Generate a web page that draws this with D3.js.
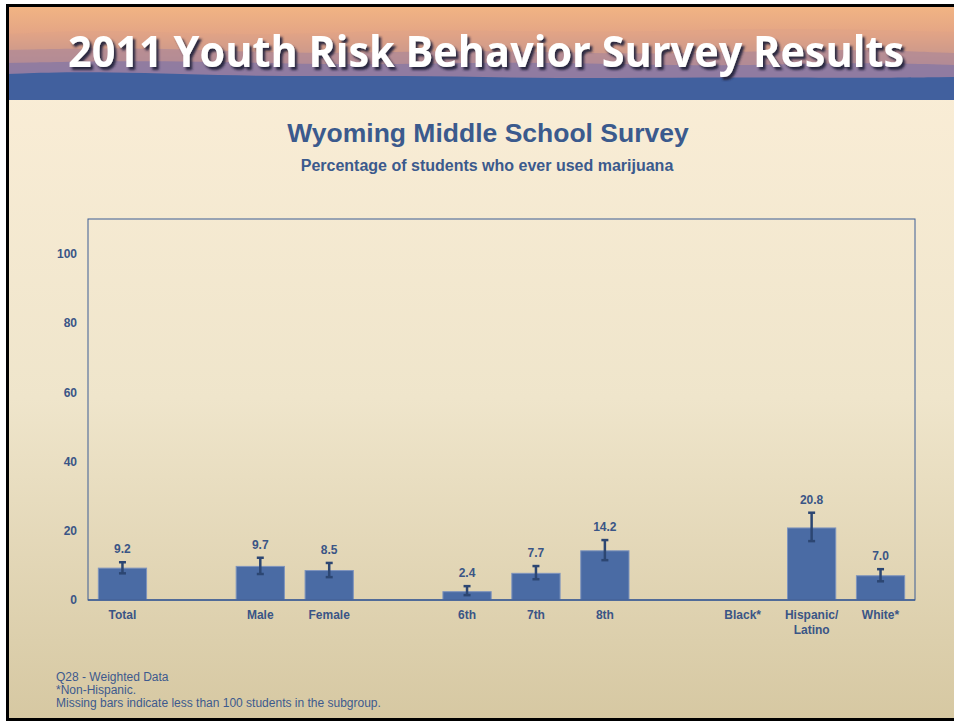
<!DOCTYPE html>
<html>
<head>
<meta charset="utf-8">
<script src="https://cdn.jsdelivr.net/npm/d3@7"></script>
<style>
  body { margin: 0; background: #fff; }
  svg { display: block; font-family: "Liberation Sans", Arial, sans-serif; }
</style>
</head>
<body>
<svg width="954" height="723"></svg>
<script>
// categories (gap slots are blank columns in the chart)
const categories = ["Total", "gap1", "Male", "Female", "gap2", "6th", "7th", "8th", "gap3", "Black*", "Hispanic/\nLatino", "White*"];
const values = [9.2, null, 9.7, 8.5, null, 2.4, 7.7, 14.2, null, null, 20.8, 7.0];
const lowerCI = [7.7, null, 7.5, 6.6, null, 1.4, 6.0, 11.5, null, null, 17.0, 5.4];
const upperCI = [10.9, null, 12.2, 10.7, null, 4.0, 9.8, 17.3, null, null, 25.2, 8.9];
const yTicks = [0, 20, 40, 60, 80, 100];
const footnotes = ["Q28 - Weighted Data", "*Non-Hispanic.", "Missing bars indicate less than 100 students in the subgroup."];

const width = 954, height = 723;
const margin = { top: 219, left: 88, bottom: 123, right: 39 };
const textColor = "#3a5586";

const svg = d3.select("svg");
const defs = svg.append("defs");

const bg = defs.append("linearGradient").attr("id", "bg").attr("x1", 0).attr("y1", 0).attr("x2", 0).attr("y2", 1);
bg.append("stop").attr("offset", "0%").attr("stop-color", "#fcefd9");
bg.append("stop").attr("offset", "55%").attr("stop-color", "#efe5cb");
bg.append("stop").attr("offset", "100%").attr("stop-color", "#d6c8a2");

const sky = defs.append("linearGradient").attr("id", "sky").attr("x1", 0).attr("y1", 0).attr("x2", 0).attr("y2", 1);
sky.append("stop").attr("offset", "0%").attr("stop-color", "#f2b583");
sky.append("stop").attr("offset", "30%").attr("stop-color", "#e4a585");
sky.append("stop").attr("offset", "55%").attr("stop-color", "#b18b93");
sky.append("stop").attr("offset", "72%").attr("stop-color", "#8a78a2");
sky.append("stop").attr("offset", "100%").attr("stop-color", "#6f77a8");

const shadow = defs.append("filter").attr("id", "shadow").attr("x", "-5%").attr("y", "-20%").attr("width", "110%").attr("height", "150%");
shadow.append("feDropShadow").attr("dx", 2.5).attr("dy", 3).attr("stdDeviation", 0.8)
  .attr("flood-color", "#24243c").attr("flood-opacity", 0.95);

// page background
svg.append("rect").attr("x", 7).attr("y", 5).attr("width", width).attr("height", 715).attr("fill", "url(#bg)");

// banner
const banner = svg.append("g");
banner.append("rect").attr("x", 7).attr("y", 5).attr("width", width).attr("height", 95).attr("fill", "url(#sky)");
const ridge = d3.line().curve(d3.curveBasis);
const layers = [
  { color: "#dfa286", opacity: 0.55, pts: [[7, 34], [120, 29], [260, 37], [420, 28], [600, 34], [760, 27], [954, 32]] },
  { color: "#a9869a", opacity: 0.6, pts: [[7, 50], [150, 47], [300, 55], [480, 49], [650, 56], [820, 48], [954, 53]] },
  { color: "#8577a4", opacity: 0.75, pts: [[7, 63], [180, 60], [350, 66], [520, 61], [700, 67], [860, 62], [954, 65]] },
  { color: "#41609e", opacity: 1, pts: [[7, 74], [100, 71], [260, 77], [400, 75], [560, 79], [700, 77], [860, 78], [954, 77]] }
];
banner.selectAll("path.ridge").data(layers).join("path")
  .attr("class", "ridge")
  .attr("d", d => ridge(d.pts) + "L954,100L7,100Z")
  .attr("fill", d => d.color)
  .attr("opacity", d => d.opacity);

banner.append("text")
  .attr("x", 68).attr("y", 67)
  .attr("textLength", 836).attr("lengthAdjust", "spacingAndGlyphs")
  .attr("font-family", "'Open Sans', 'DejaVu Sans', sans-serif")
  .attr("font-weight", 700).attr("font-size", 43)
  .attr("fill", "#ffffff")
  .attr("filter", "url(#shadow)")
  .text("2011 Youth Risk Behavior Survey Results");

// black slide frame
svg.append("rect").attr("x", 7.5).attr("y", 5.5).attr("width", width).attr("height", 714)
  .attr("fill", "none").attr("stroke", "#000").attr("stroke-width", 3);

// titles
svg.append("text").attr("x", 488).attr("y", 142).attr("text-anchor", "middle")
  .attr("font-size", 26.5).attr("font-weight", "bold").attr("fill", "#3b5a8d")
  .text("Wyoming Middle School Survey");
svg.append("text").attr("x", 487).attr("y", 171).attr("text-anchor", "middle")
  .attr("font-size", 16).attr("font-weight", "bold").attr("fill", "#3b5a8d")
  .text("Percentage of students who ever used marijuana");

// scales
const x = d3.scaleBand().domain(categories)
  .range([margin.left, width - margin.right]).paddingInner(0.3).paddingOuter(0.15);
const y = d3.scaleLinear().domain([0, 110]).range([height - margin.bottom, margin.top]);

const data = categories.map((c, i) => ({ c, v: values[i], lo: lowerCI[i], hi: upperCI[i] }));
const present = data.filter(d => d.v !== null);

// plot frame
svg.append("rect")
  .attr("x", margin.left).attr("y", margin.top)
  .attr("width", width - margin.right - margin.left)
  .attr("height", y(0) - margin.top)
  .attr("fill", "none").attr("stroke", "#3d5c94").attr("stroke-width", 1);

// y axis labels
const yAxis = d3.axisLeft(y).tickValues(yTicks).tickSize(0).tickPadding(11);
const gy = svg.append("g").attr("transform", `translate(${margin.left},0)`).call(yAxis);
gy.select(".domain").remove();
gy.selectAll("text").attr("font-size", 12).attr("font-weight", "bold").attr("fill", textColor)
  .attr("font-family", "'Liberation Sans', Arial, sans-serif");

// bars
svg.selectAll("rect.bar").data(present).join("rect")
  .attr("class", "bar")
  .attr("x", d => x(d.c)).attr("width", x.bandwidth())
  .attr("y", d => y(d.v)).attr("height", d => y(0) - y(d.v))
  .attr("fill", "#4a6ba4").attr("stroke", "#7d93bd").attr("stroke-width", 1);

// bottom axis line
svg.append("line").attr("x1", margin.left).attr("x2", width - margin.right)
  .attr("y1", y(0)).attr("y2", y(0)).attr("stroke", "#3d5c94").attr("stroke-width", 1.5);

// error bars
const err = svg.selectAll("g.err").data(present).join("g").attr("class", "err")
  .attr("stroke", "#2c4672").attr("stroke-width", 2.5);
err.append("line")
  .attr("x1", d => x(d.c) + x.bandwidth() / 2).attr("x2", d => x(d.c) + x.bandwidth() / 2)
  .attr("y1", d => y(d.lo)).attr("y2", d => y(d.hi));
err.append("line")
  .attr("x1", d => x(d.c) + x.bandwidth() / 2 - 3.5).attr("x2", d => x(d.c) + x.bandwidth() / 2 + 3.5)
  .attr("y1", d => y(d.hi)).attr("y2", d => y(d.hi));
err.append("line")
  .attr("x1", d => x(d.c) + x.bandwidth() / 2 - 3.5).attr("x2", d => x(d.c) + x.bandwidth() / 2 + 3.5)
  .attr("y1", d => y(d.lo)).attr("y2", d => y(d.lo));

// value labels
svg.selectAll("text.val").data(present).join("text")
  .attr("class", "val")
  .attr("x", d => x(d.c) + x.bandwidth() / 2)
  .attr("y", d => y(d.hi) - 9)
  .attr("text-anchor", "middle")
  .attr("font-size", 12).attr("font-weight", "bold").attr("fill", textColor)
  .text(d => d.v.toFixed(1));

// category labels
const xl = svg.selectAll("text.cat").data(data.filter(d => !d.c.startsWith("gap"))).join("text")
  .attr("class", "cat")
  .attr("x", d => x(d.c) + x.bandwidth() / 2)
  .attr("y", y(0) + 19)
  .attr("text-anchor", "middle")
  .attr("font-size", 12).attr("font-weight", "bold").attr("fill", textColor);
xl.selectAll("tspan").data(d => d.c.split("\n").map(t => ({ t, cx: x(d.c) + x.bandwidth() / 2 }))).join("tspan")
  .attr("x", d => d.cx)
  .attr("dy", (d, i) => i === 0 ? 0 : 14.5)
  .text(d => d.t);

// footnotes
svg.selectAll("text.foot").data(footnotes).join("text")
  .attr("class", "foot")
  .attr("x", 56).attr("y", (d, i) => 681 + i * 13)
  .attr("font-size", 12).attr("fill", "#3d5a8e")
  .text(d => d);
</script>
</body>
</html>
